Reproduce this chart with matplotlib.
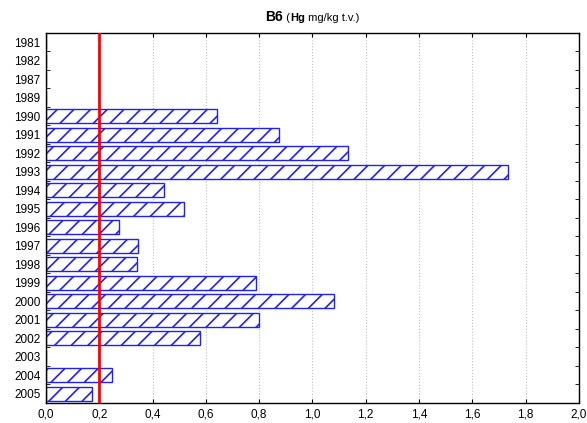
import numpy as np
import matplotlib
matplotlib.use('Agg')
import matplotlib.pyplot as plt
from matplotlib.offsetbox import TextArea, HPacker, AnchoredOffsetbox

plt.rcParams['font.family'] = ['Liberation Sans', 'DejaVu Sans']
plt.rcParams['hatch.linewidth'] = 1.2

# years (categories) and Hg values (mg/kg t.v.), nan = no data
years = ['1981', '1982', '1987', '1989', '1990', '1991', '1992', '1993', '1994',
         '1995', '1996', '1997', '1998', '1999', '2000', '2001', '2002', '2003',
         '2004', '2005']
hg = [np.nan, np.nan, np.nan, np.nan, 0.640, 0.876, 1.132, 1.736, 0.442,
      0.517, 0.273, 0.347, 0.340, 0.787, 1.081, 0.799, 0.579, np.nan,
      0.246, 0.171]
limit = 0.2
xticks = [0.0, 0.2, 0.4, 0.6, 0.8, 1.0, 1.2, 1.4, 1.6, 1.8, 2.0]
xlabels = ['0,0', '0,2', '0,4', '0,6', '0,8', '1,0', '1,2', '1,4', '1,6', '1,8', '2,0']

fig = plt.figure(figsize=(5.87, 4.23), dpi=100)
ax = fig.add_axes([0.0784, 0.0473, 0.9076, 0.8747])

pos = np.arange(len(years))
vals = np.nan_to_num(np.array(hg, dtype=float))
ax.barh(pos, vals, height=0.76, color='white', edgecolor='#2020ff',
        hatch='//', linewidth=1.0, zorder=2)
ax.axvline(limit, color='#ff0000', linewidth=2, zorder=3)

ax.set_xlim(0, 2.0)
ax.set_ylim(len(years) - 0.5, -0.5)
ax.set_xticks(xticks)
ax.set_xticklabels(xlabels, fontsize=8.5)
ax.set_yticks(pos)
ax.set_yticklabels(years, fontsize=8.5)
ax.tick_params(axis='y', length=0, pad=4)
ax.tick_params(axis='x', direction='in', length=3, top=True, pad=4)
# inward ticks at category boundaries on both sides
ax.set_yticks(np.arange(len(years) + 1) - 0.5, minor=True)
ax.tick_params(axis='y', which='minor', direction='in', length=3, left=True, right=True)
ax.grid(axis='x', color='#c0c0c0', linestyle=':', linewidth=0.8, zorder=0)
for s in ax.spines.values():
    s.set_linewidth(1.0)
    s.set_color('black')

# title with mixed bold parts
parts = [TextArea('B6', textprops=dict(fontsize=10, fontweight='bold')),
         TextArea(' (', textprops=dict(fontsize=8)),
         TextArea('Hg', textprops=dict(fontsize=8, fontweight='bold')),
         TextArea(' mg/kg t.v.)', textprops=dict(fontsize=8))]
box = HPacker(children=parts, align='baseline', pad=0, sep=0)
title = AnchoredOffsetbox(loc='lower center', child=box, frameon=False,
                          bbox_to_anchor=(0.5, 1.01), bbox_transform=ax.transAxes,
                          borderpad=0)
ax.add_artist(title)

fig.savefig('out.png', dpi=100)
